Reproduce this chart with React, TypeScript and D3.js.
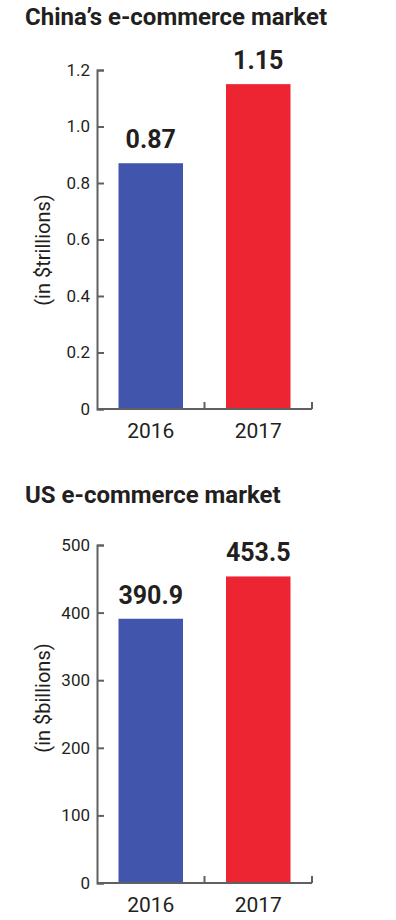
import React, { useEffect, useRef } from "react";
import * as d3 from "d3";

// data
const years = ["2016", "2017"];
const chinaValues = [0.87, 1.15];
const chinaTicks = [0, 0.2, 0.4, 0.6, 0.8, 1.0, 1.2];
const usValues = [390.9, 453.5];
const usTicks = [0, 100, 200, 300, 400, 500];

const barColors = ["#4155ad", "#ed2532"];
const ink = "#231f20";
const axisGray = "#5f6062";
const font = "Roboto, 'Noto Sans', sans-serif";

type Panel = {
  title: string;
  yLabel: string;
  values: number[];
  ticks: number[];
  fmt: (d: number) => string;
  valueFmt: (d: number) => string;
  titleY: number;
  top: number;
  bottom: number;
  labelY: number;
};

const panels: Panel[] = [
  {
    title: "China\u2019s e-commerce market",
    yLabel: "(in $trillions)",
    values: chinaValues,
    ticks: chinaTicks,
    fmt: (d) => (d === 0 ? "0" : d3.format(".1f")(d)),
    valueFmt: d3.format(".2f"),
    titleY: 25,
    top: 70,
    bottom: 409,
    labelY: 250,
  },
  {
    title: "US e-commerce market",
    yLabel: "(in $billions)",
    values: usValues,
    ticks: usTicks,
    fmt: d3.format("d"),
    valueFmt: d3.format(".1f"),
    titleY: 503,
    top: 545,
    bottom: 883,
    labelY: 698,
  },
];

const App = () => {
  const svgRef = useRef<SVGSVGElement>(null);

  useEffect(() => {
    const svg = d3.select(svgRef.current);
    svg.selectAll("*").remove();

    const left = 97;
    const right = 312;

    panels.forEach((p) => {
      const g = svg.append("g");

      // title
      g.append("text")
        .attr("x", 25)
        .attr("y", p.titleY)
        .attr("font-family", font)
        .attr("font-weight", 700)
        .attr("font-size", 24)
        .attr("fill", ink)
        .text(p.title);

      const y = d3
        .scaleLinear()
        .domain([0, p.ticks[p.ticks.length - 1]])
        .range([p.bottom, p.top]);

      // slots for ticks, bars sit inside
      const slot = d3.scaleBand().domain(years).range([left, right]).padding(0);
      const bw = slot.bandwidth() * 0.6;

      // bars
      g.selectAll("rect.bar")
        .data(p.values)
        .enter()
        .append("rect")
        .attr("class", "bar")
        .attr("x", (d, i) => slot(years[i])! + (slot.bandwidth() - bw) / 2)
        .attr("width", bw)
        .attr("y", (d) => y(d))
        .attr("height", (d) => y(0) - y(d))
        .attr("fill", (d, i) => barColors[i]);

      // value labels
      g.selectAll("text.val")
        .data(p.values)
        .enter()
        .append("text")
        .attr("class", "val")
        .attr("x", (d, i) => slot(years[i])! + slot.bandwidth() / 2)
        .attr("y", (d) => y(d) - 15)
        .attr("text-anchor", "middle")
        .attr("font-family", font)
        .attr("font-weight", 700)
        .attr("font-size", 25)
        .attr("fill", ink)
        .text((d) => p.valueFmt(d));

      // y axis, ticks pointing inward
      const yAxis = g
        .append("g")
        .attr("transform", `translate(${left},0)`)
        .call(
          d3
            .axisLeft(y)
            .tickValues(p.ticks)
            .tickFormat((d) => p.fmt(d as number))
            .tickSizeInner(-7)
            .tickSizeOuter(-7)
            .tickPadding(7)
        );
      yAxis.selectAll("path, line").attr("stroke", axisGray).attr("stroke-width", 2);
      yAxis
        .selectAll("text")
        .attr("font-family", font)
        .attr("font-size", 17)
        .attr("fill", ink);

      // x axis: line with ticks at slot edges
      const xg = g.append("g");
      xg.append("line")
        .attr("x1", left)
        .attr("x2", right)
        .attr("y1", y(0))
        .attr("y2", y(0))
        .attr("stroke", axisGray)
        .attr("stroke-width", 2);
      xg.selectAll("line.tick")
        .data(years)
        .enter()
        .append("line")
        .attr("class", "tick")
        .attr("x1", (d) => slot(d)! + slot.bandwidth())
        .attr("x2", (d) => slot(d)! + slot.bandwidth())
        .attr("y1", y(0))
        .attr("y2", y(0) - 7)
        .attr("stroke", axisGray)
        .attr("stroke-width", 2);
      xg.selectAll("text")
        .data(years)
        .enter()
        .append("text")
        .attr("x", (d) => slot(d)! + slot.bandwidth() / 2)
        .attr("y", y(0) + 29)
        .attr("text-anchor", "middle")
        .attr("font-family", font)
        .attr("font-size", 21)
        .attr("fill", ink)
        .text((d) => d);

      // y axis title
      g.append("text")
        .attr("transform", `translate(50,${p.labelY}) rotate(-90)`)
        .attr("text-anchor", "middle")
        .attr("font-family", font)
        .attr("font-size", 20)
        .attr("fill", ink)
        .text(p.yLabel);
    });
  }, []);

  return (
    <svg
      ref={svgRef}
      width={396}
      height={920}
      style={{ position: "absolute", left: 0, top: 0, background: "#fff" }}
    />
  );
};

export default App;
